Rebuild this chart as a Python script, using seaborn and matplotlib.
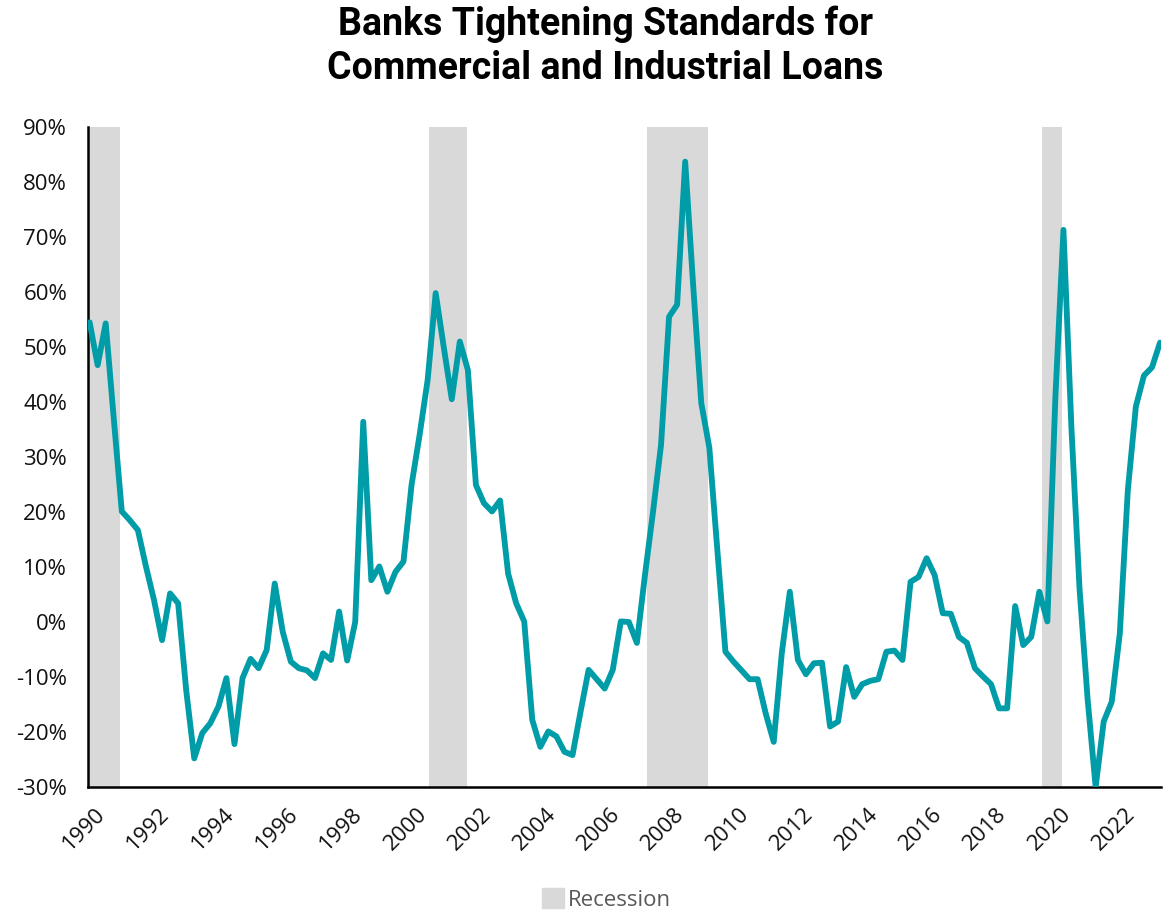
import matplotlib
matplotlib.use("Agg")
import matplotlib.pyplot as plt
from matplotlib import font_manager
from matplotlib.patches import Patch
from matplotlib.transforms import ScaledTranslation
import numpy as np
import pandas as pd
import seaborn as sns

# ---- data: net % of banks tightening C&I standards, quarterly ----
start_year = 1990.0
vals_a = [54.5, 46.7, 54.3, 37.0, 20.1, 18.5, 16.7, 10.1, 4.0, -3.3,
          5.2, 3.4, -12.4, -24.8, -20.2, -18.4, -15.4, -10.2, -22.2, -10.2,
          -6.7, -8.4, -5.1, 7.0, -1.8, -7.2, -8.4, -8.8, -10.2, -5.7,
          -6.9, 1.9, -7.0, 0.0, 36.4, 7.6, 10.1, 5.5, 9.1, 11.0]
vals_b = [24.9, 34.0, 44.0, 59.8, 50.0, 40.5, 51.0, 45.8, 24.9, 21.6,
          20.1, 22.1, 8.8, 3.4, 0.1, -17.8, -22.7, -19.9, -20.8, -23.6,
          -24.2, -16.3, -8.7, -10.4, -12.1, -8.7, 0.1, 0.0, -3.8, 8.5,
          20.0, 32.2, 55.5, 57.7, 83.7, 61.0, 39.8, 31.7, 13.0, -5.4]
vals_c = [-7.2, -8.8, -10.4, -10.4, -16.6, -21.8, -5.7, 5.5, -6.9, -9.5,
          -7.5, -7.4, -19.0, -18.1, -8.2, -13.6, -11.3, -10.7, -10.4, -5.4,
          -5.2, -6.9, 7.3, 8.2, 11.6, 8.5, 1.6, 1.5, -2.7, -3.8,
          -8.4, -9.9, -11.3, -15.7, -15.7, 2.9, -4.2, -2.7, 5.5, 0.1]
vals_d = [41.0, 71.3, 35.0, 6.0, -14.0, -30.0, -18.1, -14.5, -2.1, 24.0,
          39.2, 44.8, 46.3, 50.8]

# recession periods (decimal years on the chart's axis)
recession_start = [1989.96, 2000.55, 2007.30, 2019.58]
recession_end = [1990.95, 2001.72, 2009.20, 2020.20]

year_ticks = list(range(1990, 2023, 2))
y_ticks = list(range(-30, 91, 10))

title = "Banks Tightening Standards for\nCommercial and Industrial Loans"
legend_label = "Recession"

values = vals_a + vals_b + vals_c + vals_d
df = pd.DataFrame({"year": start_year + np.arange(len(values)) / 4.0,
                   "pct": values})

# ---- style ----
sns.set_theme(style="white")
avail = {f.name for f in font_manager.fontManager.ttflist}
body_font = "Open Sans" if "Open Sans" in avail else "DejaVu Sans"
title_font = "Roboto" if "Roboto" in avail else body_font
plt.rcParams["font.family"] = [body_font, "DejaVu Sans"]

LINE = "#009ca8"
SHADE = "#d9d9d9"

fig = plt.figure(figsize=(11.71, 9.11), dpi=100)
ax = fig.add_axes([88 / 1171, 1 - 787 / 911, (1161 - 88) / 1171, (787 - 127) / 911])

for s, e in zip(recession_start, recession_end):
    ax.axvspan(s, e, color=SHADE, lw=0, zorder=0)

sns.lineplot(data=df, x="year", y="pct", ax=ax, color=LINE, linewidth=4.2,
             solid_capstyle="round", solid_joinstyle="round", zorder=3,
             legend=False)

ax.set_xlim(1989.95, 2023.28)
ax.set_ylim(-30, 90)
ax.set_xticks(year_ticks)
ax.set_xticklabels([str(y) for y in year_ticks], rotation=45, ha="right",
                   rotation_mode="anchor", fontsize=16, color="#111111")
ax.set_yticks(y_ticks)
ax.set_yticklabels([f"{v}%" for v in y_ticks], fontsize=16, color="#111111")
ax.tick_params(axis="both", direction="in", length=7, width=1.8, color="black")
ax.tick_params(axis="x", pad=12)
ax.tick_params(axis="y", pad=15)
offset = ScaledTranslation(5 / 100, 0, fig.dpi_scale_trans)
for lab in ax.get_xticklabels():
    lab.set_transform(lab.get_transform() + offset)
ax.set_xlabel("")
ax.set_ylabel("")

for side in ["top", "right"]:
    ax.spines[side].set_visible(False)
for side in ["left", "bottom"]:
    ax.spines[side].set_color("black")
    ax.spines[side].set_linewidth(1.8)
ax.grid(False)

fig.text(0.517, 1 - 6 / 911, title, ha="center", va="top", fontsize=27,
         fontweight="bold", family=title_font, linespacing=1.22, color="black")

handle = Patch(facecolor=SHADE, edgecolor=SHADE, label=legend_label)
leg = fig.legend(handles=[handle], loc="lower center", bbox_to_anchor=(0.518, -0.022),
                 frameon=False, fontsize=16, handlelength=1.0, handleheight=1.0,
                 handletextpad=0.2)
for t in leg.get_texts():
    t.set_color("#595959")

fig.savefig("out.png", dpi=100)
